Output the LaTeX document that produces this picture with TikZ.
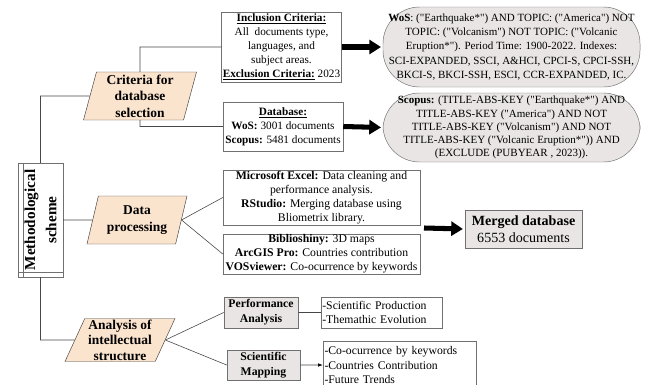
\documentclass[tikz,border=0pt]{standalone}
\usepackage{fontspec}
\setmainfont{Liberation Serif}
\newfontfamily\plainserif{Liberation Serif}
\usepackage{graphicx}
\usetikzlibrary{shapes.geometric,arrows.meta}
\definecolor{peach}{RGB}{251,228,206}
\definecolor{boxgray}{RGB}{233,229,228}
\definecolor{edgegray}{RGB}{112,112,112}
\tikzset{
  para/.style={trapezium, trapezium left angle=70, trapezium right angle=110,
    trapezium stretches body, draw=black!75, fill=peach, align=center,
    inner sep=0pt, font=\fontsize{11.5}{14}\selectfont\bfseries},
  txtbox/.style={draw=edgegray, fill=white, align=center, inner sep=1pt,
    font=\fontsize{10}{12}\selectfont},
  graybox/.style={draw=edgegray, fill=boxgray, semithick, align=center,
    inner sep=1pt, font=\fontsize{10}{12.8}\selectfont\bfseries},
  bubble/.style={draw=edgegray, fill=boxgray, rounded corners=1.1cm,
    align=center, inner sep=1pt},
  listbox/.style={draw=edgegray, fill=white, align=left, inner xsep=0.3pt,
    inner ysep=1pt, font=\fontsize{10}{12}\selectfont},
  conn/.style={draw=black!72, line width=0.5pt, -{Latex[length=4pt,width=3pt,color=black]}},
  bigarrow/.style={line width=4.3pt, -{Triangle[length=10pt,width=12pt]}}
}
\begin{document}
\plainserif
\begin{tikzpicture}[x=0.03cm,y=-0.03cm]
\path[use as bounding box, clip] (0,0) rectangle (651,384);

% left column
\node (meth) at (40.5,220) [draw=edgegray, minimum width=1.35cm, minimum height=3.42cm, inner sep=0pt]
  {\rotatebox{90}{\parbox{3.2cm}{\centering\fontsize{13}{18}\selectfont\bfseries Methodological\\scheme}}};
\draw[edgegray] ([xshift=0.15cm]meth.north west) -- ([xshift=0.15cm]meth.south west);
\draw[edgegray] ([yshift=0.15cm]meth.south west) -- ([yshift=0.15cm]meth.south east);

\node (crit) at (140,96) [para, trapezium left angle=73, trapezium right angle=107, minimum width=3.39cm, minimum height=1.44cm] {Criteria for\\database\\selection};
\node (data) at (137,220) [para, trapezium left angle=68, trapezium right angle=112, minimum width=3.0cm, minimum height=1.44cm] {Data\\processing};
\node (anal) at (120,340) [para, trapezium left angle=64, trapezium right angle=116, minimum width=3.3cm, minimum height=1.29cm, font=\fontsize{11.5}{13.2}\selectfont\bfseries] {Analysis of\\intellectual\\structure};

% criteria
\node (incl) at (281.5,47) [txtbox, minimum width=3.51cm, minimum height=2.1cm, font=\fontsize{9.6}{12}\selectfont]
  {\textbf{\underline{Inclusion Criteria:}}\\All~ documents type,\\languages, and\\subject areas.\\\textbf{\underline{Exclusion Criteria:}} 2023};
\node (db) at (283,126.5) [txtbox, minimum width=3.6cm, minimum height=1.47cm, font=\fontsize{9.6}{12}\selectfont]
  {\textbf{\underline{Database:}}\\\textbf{WoS:} 3001 documents\\\textbf{Scopus:} 5481 documents};
\node (wos) at (511.5,47) [bubble, minimum width=7.71cm, minimum height=2.4cm, font=\fontsize{9.4}{12.2}\selectfont]
  {\textbf{WoS}: ("Earthquake*") AND TOPIC: ("America") NOT\\
   TOPIC: ("Volcanism") NOT TOPIC: ("Volcanic\\
   Eruption*"). Period Time: 1900-2022. Indexes:\\
   SCI-EXPANDED, SSCI, A\&HCI, CPCI-S, CPCI-SSH,\\
   BKCI-S, BKCI-SSH, ESCI, CCR-EXPANDED, IC.};
\node (scopus) at (511.5,127.5) [bubble, minimum width=7.71cm, minimum height=2.07cm, font=\fontsize{9.4}{11.2}\selectfont]
  {\textbf{Scopus:} (TITLE-ABS-KEY ("Earthquake*") AND\\
   TITLE-ABS-KEY ("America") AND NOT\\
   TITLE-ABS-KEY ("Volcanism") AND NOT\\
   TITLE-ABS-KEY ("Volcanic Eruption*")) AND\\
   (EXCLUDE (PUBYEAR , 2023)).};

% processing
\node (excel) at (321.5,197.5) [txtbox, minimum width=5.91cm, minimum height=1.65cm]
  {\textbf{Microsoft Excel:} Data cleaning and\\performance analysis.\\\textbf{RStudio:} Merging database using\\Bliometrix library.};
\node (bibl) at (321.5,254) [txtbox, minimum width=5.91cm, minimum height=1.14cm, inner ysep=0.5pt]
  {\textbf{Biblioshiny:} 3D maps\\\textbf{ArcGIS Pro:} Countries contribution\\\textbf{VOSviewer:} Co-ocurrence by keywords};
\coordinate (mergein) at (424,228);
\node (merged) at (523.5,229) [graybox, minimum width=3.51cm, minimum height=1.14cm, font=\fontsize{12}{14.2}\selectfont]
  {\textbf{Merged database}\\6553 documents};

% analysis
\node (perf) at (261,312.5) [graybox, minimum width=2.22cm, minimum height=0.93cm] {Performance\\Analysis};
\node (sci) at (263.5,365) [graybox, minimum width=2.19cm, minimum height=0.9cm] {Scientific\\Mapping};
\node (plist) at (381.5,312.5) [listbox, minimum width=3.63cm, minimum height=0.93cm, text width=3.55cm]
  {-Scientific Production\\-Themathic Evolution};
\node (slist) at (399.5,365) [listbox, minimum width=4.59cm, minimum height=1.44cm, text width=4.5cm]
  {-Co-ocurrence by keywords\\-Countries Contribution\\-Future Trends};

\draw[conn]
(meth.north) |- (crit.west)
(meth.east) -- (data.west)
(meth.south) |- (anal.west)
(crit.north) |- (incl.west)
(crit.south) |- (db.west)
(data.east) -- (excel.west)
(data.east) -- (bibl.west)
(anal.east) -- (perf.west)
(anal.east) -- (sci.west)
(perf.east) -- (plist.west)
(sci.east) -- (slist.west);

\draw[bigarrow, shorten >=1.5pt] (incl.east) -- (wos.west);
\draw[bigarrow, shorten >=1.5pt] (db.east) -- (scopus.west);
\draw[bigarrow, shorten >=1.5pt] (mergein) -- (merged.west);
\end{tikzpicture}
\end{document}
